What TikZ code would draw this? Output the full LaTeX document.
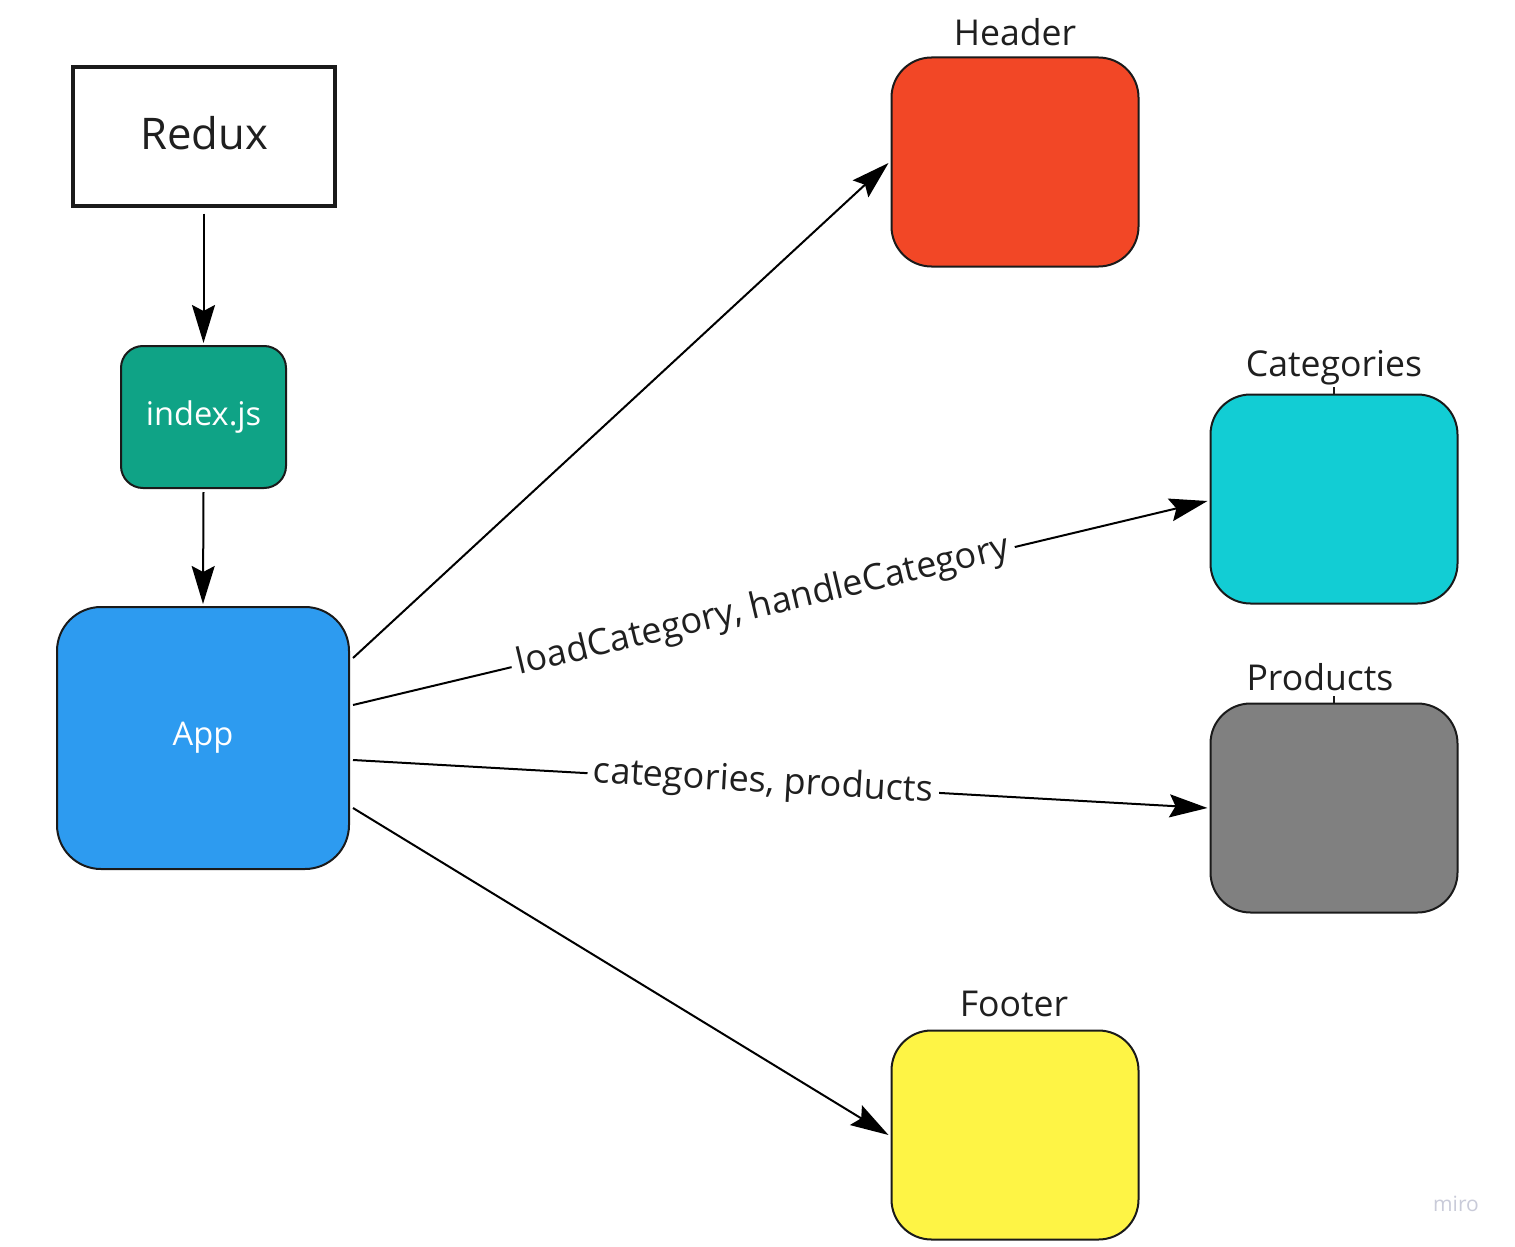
\documentclass[tikz,border=0pt]{standalone}
\usepackage{fontspec}
\setmainfont{Open Sans}
\usetikzlibrary{arrows.meta,calc}
\definecolor{txt}{HTML}{1F1F1F}
\definecolor{edge}{HTML}{1A1A1A}
\definecolor{teal}{HTML}{0FA386}
\definecolor{appblue}{HTML}{2D9BF0}
\definecolor{hdrred}{HTML}{F24726}
\definecolor{catcyan}{HTML}{12CDD4}
\definecolor{prodgray}{HTML}{808080}
\definecolor{footyel}{HTML}{FEF445}
\definecolor{mirogray}{HTML}{C9CBD9}
\tikzset{
  box/.style={draw=edge, line width=1pt, rounded corners=20pt, minimum width=123.5pt, minimum height=104.5pt, inner sep=0pt},
  lbl/.style={text=txt, font=\fontsize{17.8}{20}\selectfont, inner sep=0pt},
  conn/.style={line width=1pt, draw=black, -{Stealth[length=19pt,width=11.5pt,inset=3pt]}},
  elbl/.style={text=txt, font=\fontsize{18}{20}\selectfont, fill=white, inner xsep=3pt, inner ysep=2pt, sloped},
}
\begin{document}
\begin{tikzpicture}[x=0.5pt,y=-0.5pt]
\path[use as bounding box, fill=white] (0,0) rectangle (1515,1247);

% Redux
\node[draw=edge, line width=2pt, minimum width=131pt, minimum height=69pt, inner sep=0pt] (redux) at (203.5,136.5) {};
\node[text=txt, font=\fontsize{21.8}{24}\selectfont, inner sep=0pt] (reduxt) at (204,133) {Redux};
% index.js
\node[draw=edge, line width=1pt, fill=teal, rounded corners=11pt, minimum width=82.5pt, minimum height=71pt,
      inner sep=0pt, text=white, font=\fontsize{16.3}{19}\selectfont] (idx) at (203.5,417) {index.js};
% App
\node[draw=edge, line width=1pt, fill=appblue, rounded corners=22pt, minimum width=146pt, minimum height=131pt,
      inner sep=0pt, text=white, font=\fontsize{16.3}{19}\selectfont] (app) at (203,738) {App};

% right boxes
\node[box, fill=hdrred] (hdr) at (1015,162) {};
\node[box, fill=catcyan] (cat) at (1334,499) {};
\node[box, fill=prodgray] (prod) at (1334,808) {};
\node[box, fill=footyel] (foot) at (1015,1135) {};

% box labels
\node[lbl] (hdrl) at (1015,32) {Header};
\node[lbl] (catl) at (1334,368) {Categories};
\node[lbl] (prodl) at (1320,677) {Products};
\node[lbl] (footl) at (1014,1004) {Footer};
\draw[line width=0.6pt, edge] (cat.north) -- ++(0,-7);
\draw[line width=0.6pt, edge] (prod.north) -- ++(0,-7);

% connectors
\draw[conn] ([yshift=-3pt]redux.south) -- ([yshift=1pt]idx.north);
\draw[conn] ([yshift=-1.5pt]idx.south) -- ([yshift=1pt]app.north);
\draw[conn] ($(app.east)+(3,-80)$) -- ($(hdr.west)+(-2,1)$);
\draw[conn] ($(app.east)+(3,-33)$) -- node[elbl, pos=0.48] {loadCategory, handleCategory} ($(cat.west)+(-2,2)$);
\draw[conn] ($(app.east)+(3,22)$) -- node[elbl, pos=0.48] {categories, products} ($(prod.west)+(-2,0)$);
\draw[conn] ($(app.east)+(3,70)$) -- ($(foot.west)+(-2,0)$);

% watermark
\node[text=mirogray, font=\fontsize{10.5}{12}\selectfont, inner sep=0pt] (miro) at (1456,1204) {miro};
\end{tikzpicture}
\end{document}
